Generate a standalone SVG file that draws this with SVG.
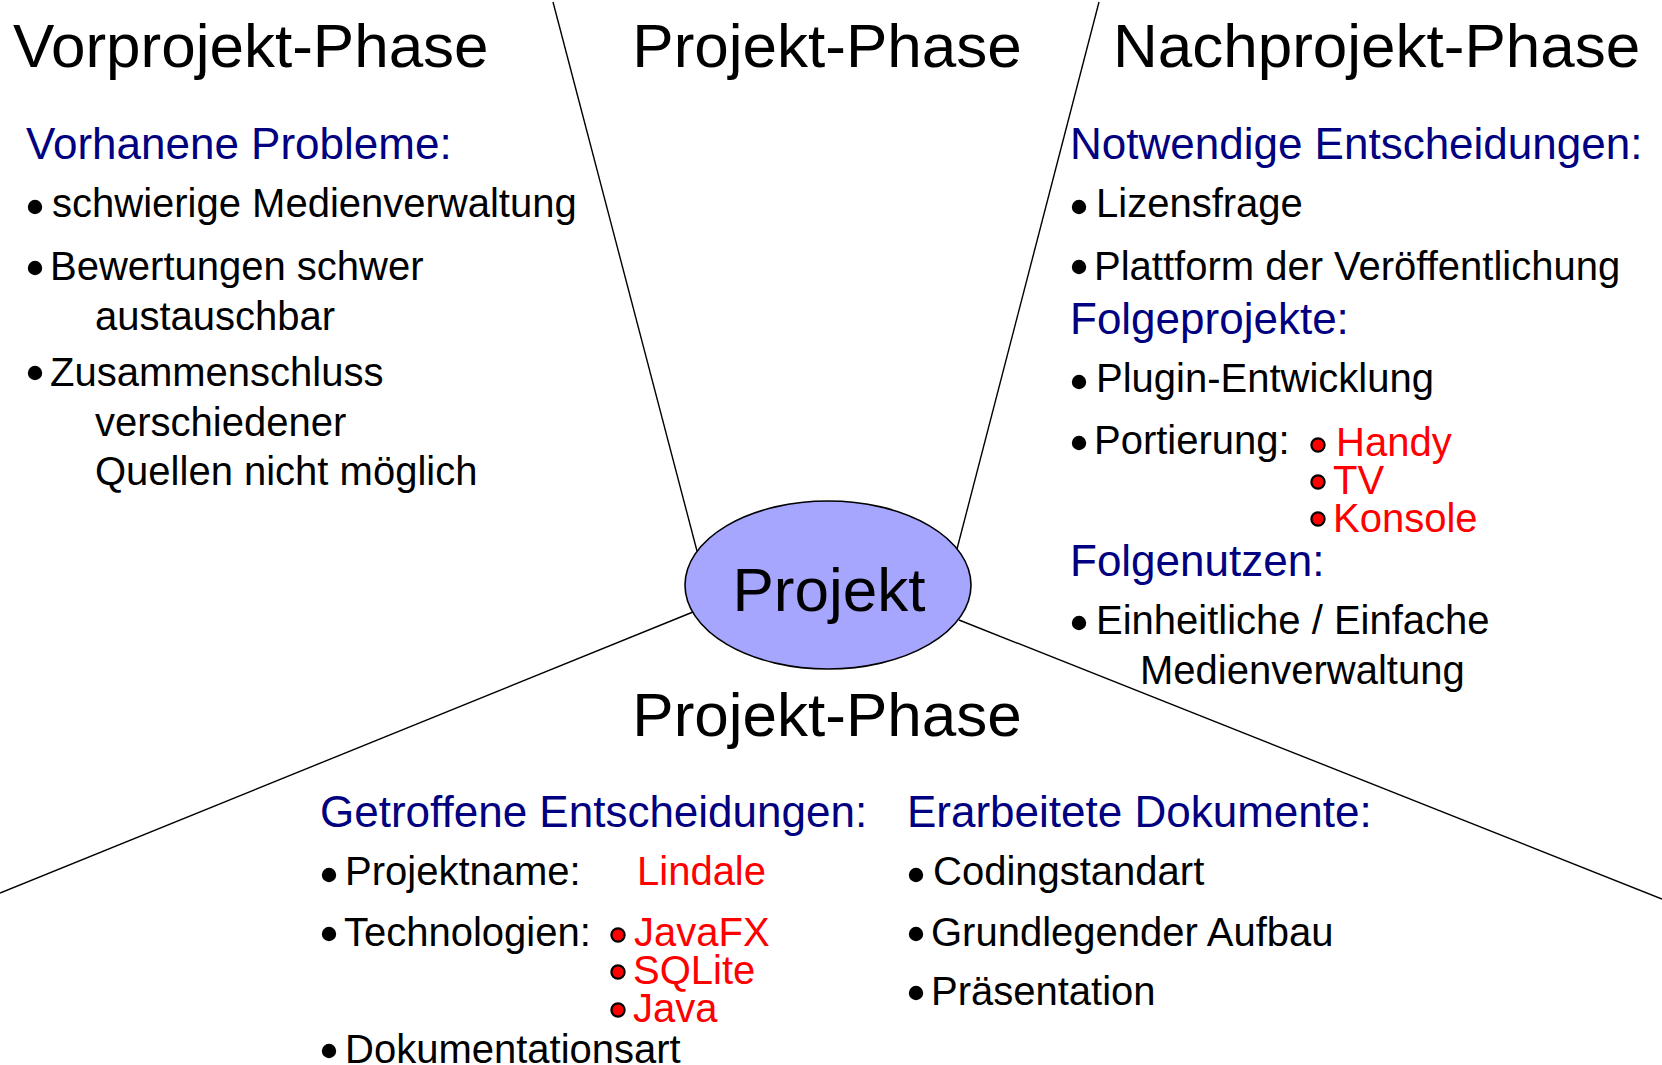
<svg xmlns="http://www.w3.org/2000/svg" width="1662" height="1065" viewBox="0 0 1662 1065">
<style>
text{font-family:"Liberation Sans",Arial,sans-serif;}
.title{font-size:62px;fill:#000;}
.head{font-size:44px;fill:#000080;}
.item{font-size:40px;fill:#000;}
.red{font-size:40px;fill:#ff0000;}
.dot{fill:#000;}
.rdot{fill:#ff0000;stroke:#000;stroke-width:2.2;}
.conn{stroke:#000;stroke-width:1.4;fill:none;}
</style>
<rect width="1662" height="1065" fill="#fff"/>
<g id="connectors">
<line class="conn" x1="553" y1="2" x2="697" y2="551"/>
<line class="conn" x1="1099" y1="2" x2="957" y2="549"/>
<line class="conn" x1="0" y1="893" x2="693" y2="612"/>
<line class="conn" x1="959" y1="620" x2="1662" y2="899"/>
</g>
<g id="projekt">
<ellipse cx="828" cy="585" rx="143" ry="84" fill="#a6a6ff" stroke="#000" stroke-width="1.6"/>
<text x="829" y="611" font-size="62" text-anchor="middle">Projekt</text>
</g>
<g id="vorprojekt">
<text class="title" x="13" y="67">Vorprojekt-Phase</text>
<text class="head" x="26" y="159">Vorhanene Probleme:</text>
<circle class="dot" cx="35" cy="207" r="7.2"/>
<text class="item" x="52" y="217">schwierige Medienverwaltung</text>
<circle class="dot" cx="35" cy="268" r="7.2"/>
<text class="item" x="50" y="280">Bewertungen schwer</text>
<text class="item" x="95" y="330">austauschbar</text>
<circle class="dot" cx="35" cy="373" r="7.2"/>
<text class="item" x="50" y="386">Zusammenschluss</text>
<text class="item" x="95" y="436">verschiedener</text>
<text class="item" x="95" y="485">Quellen nicht möglich</text>
</g>
<g id="projekt-phase-top">
<text class="title" x="827" y="67" text-anchor="middle">Projekt-Phase</text>
</g>
<g id="nachprojekt">
<text class="title" x="1113" y="67">Nachprojekt-Phase</text>
<text class="head" x="1070" y="159">Notwendige Entscheidungen:</text>
<circle class="dot" cx="1079" cy="207" r="7.2"/>
<text class="item" x="1096" y="217">Lizensfrage</text>
<circle class="dot" cx="1079" cy="267" r="7.2"/>
<text class="item" x="1094" y="280">Plattform der Veröffentlichung</text>
<text class="head" x="1070" y="334">Folgeprojekte:</text>
<circle class="dot" cx="1079" cy="382" r="7.2"/>
<text class="item" x="1096" y="392">Plugin-Entwicklung</text>
<circle class="dot" cx="1079" cy="443" r="7.2"/>
<text class="item" x="1094" y="454">Portierung:</text>
<circle class="rdot" cx="1318" cy="445" r="6.6"/>
<text class="red" x="1336" y="456">Handy</text>
<circle class="rdot" cx="1318" cy="482" r="6.6"/>
<text class="red" x="1333" y="494">TV</text>
<circle class="rdot" cx="1318" cy="519" r="6.6"/>
<text class="red" x="1333" y="532">Konsole</text>
<text class="head" x="1070" y="576">Folgenutzen:</text>
<circle class="dot" cx="1079" cy="623" r="7.2"/>
<text class="item" x="1096" y="634">Einheitliche / Einfache</text>
<text class="item" x="1140" y="684">Medienverwaltung</text>
</g>
<g id="projekt-phase-bottom">
<text class="title" x="827" y="736" text-anchor="middle">Projekt-Phase</text>
<text class="head" x="320" y="827">Getroffene Entscheidungen:</text>
<circle class="dot" cx="329" cy="875" r="7.2"/>
<text class="item" x="345" y="885">Projektname:</text>
<text class="red" x="637" y="885">Lindale</text>
<circle class="dot" cx="329" cy="934" r="7.2"/>
<text class="item" x="344" y="946">Technologien:</text>
<circle class="rdot" cx="618" cy="935" r="6.6"/>
<text class="red" x="634" y="946">JavaFX</text>
<circle class="rdot" cx="618" cy="972" r="6.6"/>
<text class="red" x="633" y="984">SQLite</text>
<circle class="rdot" cx="618" cy="1010" r="6.6"/>
<text class="red" x="633" y="1022">Java</text>
<circle class="dot" cx="329" cy="1051" r="7.2"/>
<text class="item" x="345" y="1063">Dokumentationsart</text>
<text class="head" x="907" y="827">Erarbeitete Dokumente:</text>
<circle class="dot" cx="916" cy="875" r="7.2"/>
<text class="item" x="933" y="885">Codingstandart</text>
<circle class="dot" cx="916" cy="934" r="7.2"/>
<text class="item" x="931" y="946">Grundlegender Aufbau</text>
<circle class="dot" cx="916" cy="993" r="7.2"/>
<text class="item" x="931" y="1005">Präsentation</text>
</g>
</svg>
